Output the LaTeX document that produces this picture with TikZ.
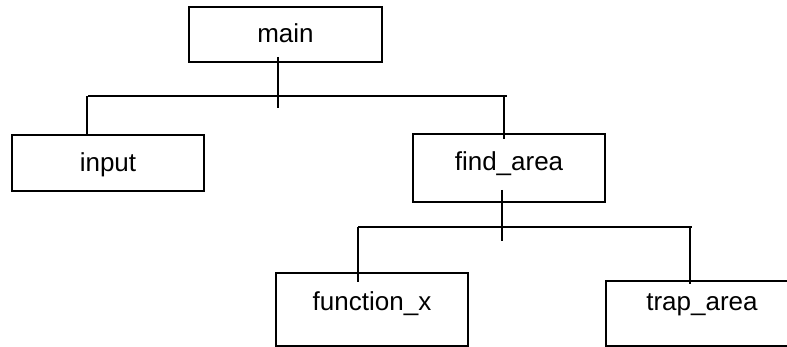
\documentclass[tikz,border=0pt]{standalone}
\usepackage{fontspec}
\setmainfont{Liberation Sans}
\begin{document}
\begin{tikzpicture}[x=1pt,y=-1pt,
  box/.style={draw=black, line width=2pt, rectangle, inner sep=0pt,
    minimum width=192pt, font=\fontsize{26}{30}\selectfont, text height=20pt},
  conn/.style={draw=black, line width=1.5pt}]
\path[use as bounding box] (0,0) rectangle (787,347);
\clip (0,0) rectangle (787,347);
% boxes
\node[box, minimum width=193pt, minimum height=55pt, text depth=3pt] (main) at (285.5,34.5) {main};
\node[box, minimum height=56pt, text depth=2.6pt] (input) at (108,163) {input};
\node[box, minimum height=68pt, text depth=14pt] (find) at (509,168) {find\_area};
\node[box, minimum height=73pt, text depth=19pt] (fx) at (372,309.5) {function\_x};
\node[box, minimum height=65pt, text depth=27pt] (trap) at (702,313.5) {trap\_area};
% bus coordinates
\coordinate (tl) at (88,96);
\coordinate (tr) at (507,96);
\coordinate (bl) at (358,227);
\coordinate (br) at (692,227);
% connectors
\draw[conn] ([xshift=-7.5pt,yshift=6pt]main.south) -- ++(0,51);
\draw[conn] (tl) -- (tr);
\draw[conn] ([xshift=-21pt]input.north |- tl) -- ([xshift=-21pt,yshift=-2pt]input.north);
\draw[conn] ([xshift=-5pt]find.north |- tr) -- ([xshift=-5pt,yshift=-6pt]find.north);
\draw[conn] ([xshift=-7pt,yshift=13pt]find.south) -- ++(0,51);
\draw[conn] (bl) -- (br);
\draw[conn] ([xshift=-14pt]fx.north |- bl) -- ([xshift=-14pt,yshift=-10pt]fx.north);
\draw[conn] ([xshift=-12pt]trap.north |- br) -- ([xshift=-12pt,yshift=-4pt]trap.north);
\end{tikzpicture}
\end{document}
